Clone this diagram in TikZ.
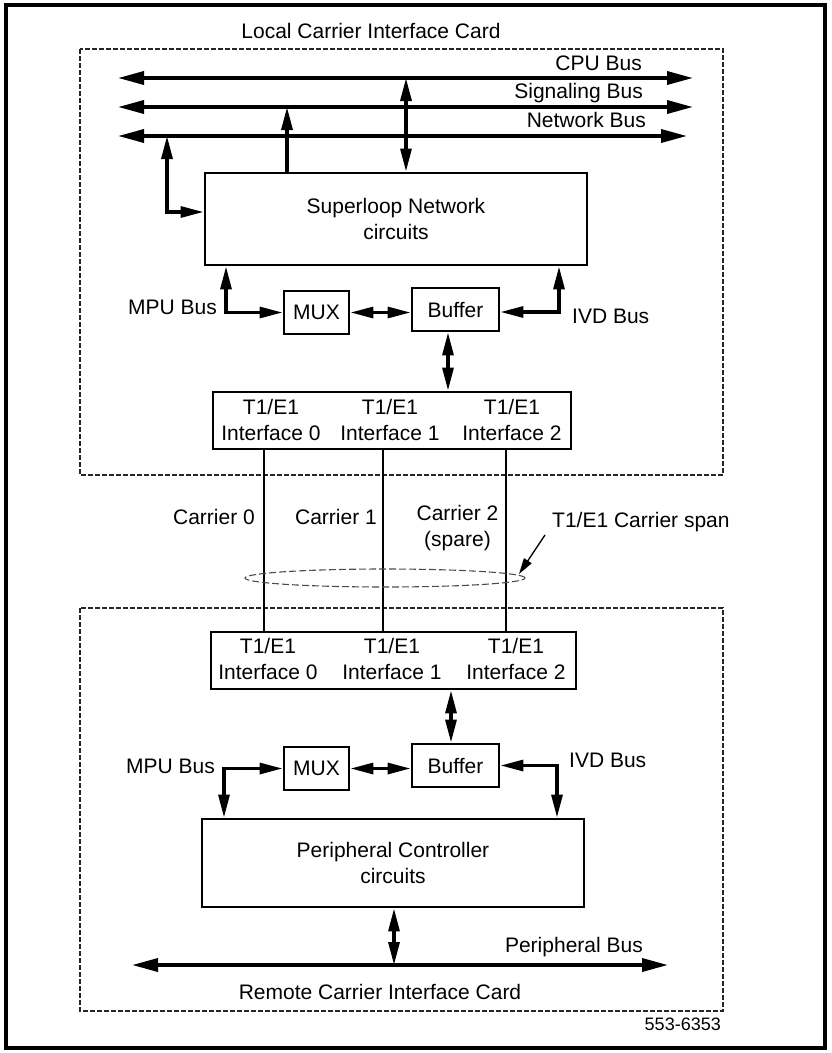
\documentclass[tikz,border=0pt]{standalone}
\usepackage{fontspec}
\setmainfont{Liberation Sans}
\usetikzlibrary{arrows.meta,shapes.geometric}
\newcommand\lbf{\fontsize{21}{26.5}\selectfont}
\begin{document}
\begin{tikzpicture}[x=1pt,y=-1pt,
  >={Triangle[length=23pt,width=11pt]},
  box/.style={draw,line width=2.9pt,inner sep=0pt,font=\lbf,align=center},
  txt/.style={inner sep=0pt,font=\lbf,align=center},
  conn/.style={line width=3.2pt},
  busline/.style={line width=3.5pt,{Triangle[length=26pt,width=13pt]}-{Triangle[length=26pt,width=13pt]}},
  card/.style={line width=2.4pt,dash pattern=on 5pt off 2pt,draw=black!85},
  carrier/.style={line width=2.9pt}]
\useasboundingbox (0,0) rectangle (831,1053);
\draw[line width=4pt] (6,5) rectangle (825,1048);

% cards
\draw[card] (80,49) rectangle (723,475);
\draw[card] (80,608) rectangle (723,1011);
\node[txt] (lcard) at (371,31) {Local Carrier Interface Card};
\node[txt] (rcard) at (380,992) {Remote Carrier Interface Card};

% nodes
\node[box,minimum width=382pt,minimum height=92pt] (sl) at (396,219) {Superloop Network\\circuits};
\node[box,minimum width=65pt,minimum height=43pt] (mux1) at (316.5,312.5) {MUX};
\node[box,minimum width=87pt,minimum height=43pt] (buf1) at (455.5,309.5) {Buffer};
\node[box,minimum width=358pt,minimum height=57pt] (t1a) at (392,420.5) {};
\node[txt] (t1a0) at (271,420) {T1/E1\\Interface 0};
\node[txt] (t1a1) at (390,420) {T1/E1\\Interface 1};
\node[txt] (t1a2) at (512,420) {T1/E1\\Interface 2};
\node[box,minimum width=365pt,minimum height=57pt] (t1b) at (393.5,660.5) {};
\node[txt] (t1b0) at (268,659) {T1/E1\\Interface 0};
\node[txt] (t1b1) at (392,659) {T1/E1\\Interface 1};
\node[txt] (t1b2) at (516,659) {T1/E1\\Interface 2};
\node[box,minimum width=87pt,minimum height=43pt] (buf2) at (455.5,765.5) {Buffer};
\node[box,minimum width=65pt,minimum height=43pt] (mux2) at (316.5,768.5) {MUX};
\node[box,minimum width=382pt,minimum height=88pt] (pc) at (393,863) {Peripheral Controller\\circuits};

% labels
\node[txt,anchor=east] (cpulbl) at (642,63) {CPU Bus};
\node[txt,anchor=east] (siglbl) at (643,93) {Signaling Bus};
\node[txt,anchor=east] (netlbl) at (646,120) {Network Bus};
\node[txt,anchor=east] (mpulbl1) at (217,307) {MPU Bus};
\node[txt,anchor=west] (ivdlbl1) at (572,316) {IVD Bus};
\node[txt,anchor=east] (car0) at (255,517) {Carrier 0};
\node[txt,anchor=east] (car1) at (377,517) {Carrier 1};
\node[txt] (car2) at (457.5,528) {Carrier 2\\(spare)};
\node[txt,anchor=west] (spanlbl) at (552,522) {T1/E1 Carrier span};
\node[txt,anchor=east] (mpulbl2) at (215,766) {MPU Bus};
\node[txt,anchor=west] (ivdlbl2) at (569,760) {IVD Bus};
\node[txt,anchor=east] (pblbl) at (643,947) {Peripheral Bus};
\node[txt,anchor=east,font=\fontsize{18}{20}\selectfont] (fig) at (721,1024) {553-6353};

% buses
\coordinate (cpuL) at (118,78); \coordinate (cpuR) at (693,78);
\coordinate (sigL) at (118,107); \coordinate (sigR) at (693,107);
\coordinate (netL) at (118,136); \coordinate (netR) at (687,136);
\draw[busline] (cpuL) -- (cpuR);
\draw[busline] (sigL) -- (sigR);
\draw[busline] (netL) -- (netR);
\coordinate (cputap) at (406,78);
\coordinate (sigtap) at (287,107);
\coordinate (nettap) at (167,136);
\draw[conn,<->] (cputap) -- (sl.north -| cputap);
\draw[conn,->] (sl.north -| sigtap) -- (sigtap);
\draw[conn,<->] (nettap) |- ([yshift=7pt]sl.west);

% top mux / buffer
\coordinate (mpu1) at (226,312.5);
\coordinate (ivd1) at (559,312);
\draw[conn,<->] (sl.south -| mpu1) -- (mpu1) -- (mux1.west);
\draw[conn,<->] (mux1.east) -- (mux1.east -| buf1.west);
\draw[conn,<->] (sl.south -| ivd1) -- (ivd1) -- (buf1.east |- ivd1);
\coordinate (bt1) at (448,0);
\draw[conn,<->] (buf1.south -| bt1) -- (t1a.north -| bt1);

% carriers
\coordinate (c0) at (264,0); \coordinate (c1) at (383,0); \coordinate (c2) at (506,0);
\draw[carrier] (t1a.south -| c0) -- (t1b.north -| c0);
\draw[carrier] (t1a.south -| c1) -- (t1b.north -| c1);
\draw[carrier] (t1a.south -| c2) -- (t1b.north -| c2);
\node[draw=black!70,ellipse,dash pattern=on 7pt off 3pt,line width=1.1pt,minimum width=280pt,minimum height=18pt,inner sep=0pt] (span) at (385,578) {};
\coordinate (spantip) at (519,574);
\draw[line width=1.3pt,-{Triangle[length=16pt,width=9pt]}] ([shift={(-7,3)}]spanlbl.south west) -- (spantip);

% bottom
\coordinate (bt2) at (451,0);
\draw[conn,<->] (t1b.south -| bt2) -- (buf2.north -| bt2);
\coordinate (mpu2) at (224,768.5);
\coordinate (ivd2) at (557,765.5);
\draw[conn,<->] (pc.north -| mpu2) -- (mpu2) -- (mux2.west);
\draw[conn,<->] (mux2.east) -- (mux2.east -| buf2.west);
\draw[conn,<->] (pc.north -| ivd2) -- (ivd2) -- (buf2.east);
\coordinate (pbL) at (132,965); \coordinate (pbR) at (668,965); \coordinate (pbtap) at (394,965);
\draw[busline] (pbL) -- (pbR);
\draw[conn,<->] (pc.south -| pbtap) -- (pbtap);
\end{tikzpicture}
\end{document}
